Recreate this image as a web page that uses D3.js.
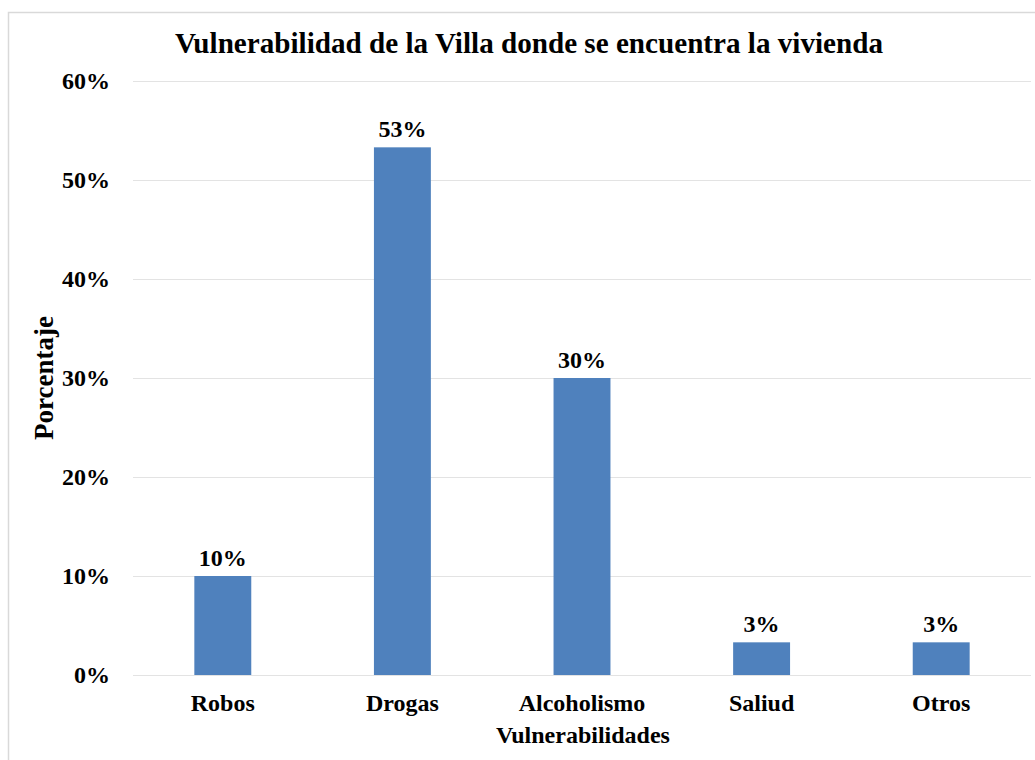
<!DOCTYPE html>
<html>
<head>
<meta charset="utf-8">
<script src="https://cdn.jsdelivr.net/npm/d3@7"></script>
<style>
    body { margin: 0; background: #fff; }
    svg text { font-family: "Liberation Serif", "Times New Roman", serif; font-weight: bold; fill: #000; }
</style>
</head>
<body>
<div id="chart"></div>
<script>
// Chart data
const categories = ["Robos", "Drogas", "Alcoholismo", "Saliud", "Otros"];
const values = [0.10, 0.533, 0.30, 0.033, 0.033];
const valueLabels = ["10%", "53%", "30%", "3%", "3%"];
const yTicks = [0, 0.1, 0.2, 0.3, 0.4, 0.5, 0.6];

const config = {
    width: 1035,
    height: 760,
    margin: { top: 81, right: 4, bottom: 85, left: 133 },
    barColor: "#4f81bd",
    gridColor: "#e3e3e3",
    borderColor: "#d9d9d9",
    fontSize: "24px"
};

const svg = d3.select("#chart")
    .append("svg")
    .attr("width", config.width)
    .attr("height", config.height);

// Outer chart border (extends beyond the visible window on right/bottom)
svg.append("rect")
    .attr("x", 8.5)
    .attr("y", 12.5)
    .attr("width", 1040)
    .attr("height", 760)
    .attr("fill", "none")
    .attr("stroke", config.borderColor)
    .attr("stroke-width", 1.5);

const plotW = config.width - config.margin.left - config.margin.right;
const plotH = config.height - config.margin.top - config.margin.bottom;

const g = svg.append("g")
    .attr("transform", `translate(${config.margin.left},${config.margin.top})`);

const x = d3.scaleBand()
    .domain(categories)
    .range([0, plotW])
    .paddingInner(0.683)
    .paddingOuter(0.3415);

const y = d3.scaleLinear()
    .domain([0, 0.6])
    .range([plotH, 0]);

// Gridlines
g.selectAll(".grid")
    .data(yTicks)
    .enter()
    .append("line")
    .attr("x1", 0)
    .attr("x2", plotW)
    .attr("y1", d => Math.round(y(d)) + 0.5)
    .attr("y2", d => Math.round(y(d)) + 0.5)
    .attr("stroke", config.gridColor)
    .attr("stroke-width", 1.2);

// Y tick labels
g.selectAll(".ytick")
    .data(yTicks)
    .enter()
    .append("text")
    .attr("x", -23)
    .attr("y", d => y(d))
    .attr("dy", "0.35em")
    .attr("text-anchor", "end")
    .style("font-size", config.fontSize)
    .text(d => d3.format(".0%")(d));

// Bars
g.selectAll(".bar")
    .data(values)
    .enter()
    .append("rect")
    .attr("x", (d, i) => x(categories[i]))
    .attr("y", d => y(d))
    .attr("width", x.bandwidth())
    .attr("height", d => plotH - y(d))
    .attr("fill", config.barColor);

// Value labels
g.selectAll(".vlabel")
    .data(values)
    .enter()
    .append("text")
    .attr("x", (d, i) => x(categories[i]) + x.bandwidth() / 2)
    .attr("y", d => y(d) - 10)
    .attr("text-anchor", "middle")
    .style("font-size", config.fontSize)
    .text((d, i) => valueLabels[i]);

// Category labels
g.selectAll(".xlabel")
    .data(categories)
    .enter()
    .append("text")
    .attr("x", d => x(d) + x.bandwidth() / 2)
    .attr("y", plotH + 36)
    .attr("text-anchor", "middle")
    .style("font-size", config.fontSize)
    .text(d => d);

// Axis titles
svg.append("text")
    .attr("x", 583)
    .attr("y", 743)
    .attr("text-anchor", "middle")
    .style("font-size", config.fontSize)
    .text("Vulnerabilidades");

svg.append("text")
    .attr("transform", "translate(53,378) rotate(-90)")
    .attr("text-anchor", "middle")
    .style("font-size", "27px")
    .text("Porcentaje");

// Chart title
svg.append("text")
    .attr("x", 529)
    .attr("y", 53)
    .attr("text-anchor", "middle")
    .attr("textLength", 708)
    .attr("lengthAdjust", "spacingAndGlyphs")
    .style("font-size", "30px")
    .text("Vulnerabilidad de la Villa donde se encuentra la vivienda");
</script>
</body>
</html>
